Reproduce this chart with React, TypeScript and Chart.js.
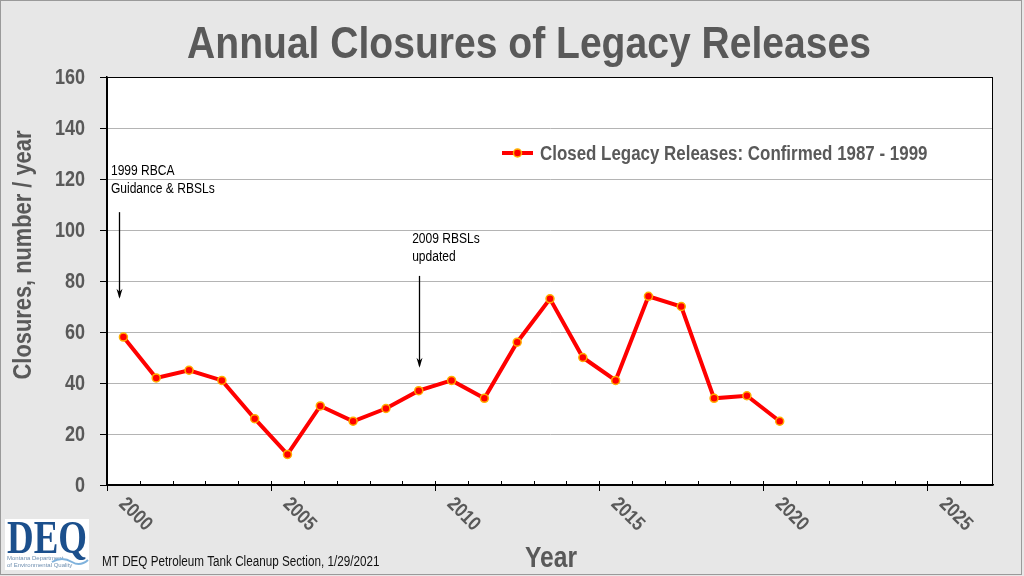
import React, { useEffect, useRef } from "react";
import { Chart, registerables } from "chart.js";

Chart.register(...registerables);

// ---- data ----
const years = [2000.5, 2001.5, 2002.5, 2003.5, 2004.5, 2005.5, 2006.5, 2007.5, 2008.5, 2009.5, 2010.5, 2011.5, 2012.5, 2013.5, 2014.5, 2015.5, 2016.5, 2017.5, 2018.5, 2019.5, 2020.5];
const closures = [58, 42, 45, 41, 26, 12, 31, 25, 30, 37, 41, 34, 56, 73, 50, 41, 74, 70, 34, 35, 25];
const xMajorTicks = [2000, 2005, 2010, 2015, 2020, 2025];
const xMin = 2000;
const xMax = 2027;
const yTickValues = [0, 20, 40, 60, 80, 100, 120, 140, 160];
const yMin = 0;
const yMax = 160;
const yStep = 20;

const chartTitle = "Annual Closures of Legacy Releases";
const yTitle = "Closures, number / year";
const xTitle = "Year";
const seriesLabel = "Closed Legacy Releases: Confirmed 1987 - 1999";
const footerText = "MT DEQ Petroleum Tank Cleanup Section, 1/29/2021";

// annotations in data units: text anchor (x,y of first line) and arrow (x, from, to)
const noteLines1 = ["1999 RBCA", "Guidance & RBSLs"];
const noteAnchor1 = [2000.12, 123];
const arrow1 = [2000.37, 107, 73];
const noteLines2 = ["2009 RBSLs", "updated"];
const noteAnchor2 = [2009.3, 96.5];
const arrow2 = [2009.5, 82, 46];

const SANS = "'Liberation Sans', Arial, sans-serif";
const GRAY = "#595959";
const BG = "#e7e7e7";
const NARROW_SX = 0.82;

type TxtOpts = {
  size: number;
  bold?: boolean;
  align?: CanvasTextAlign;
  baseline?: CanvasTextBaseline;
  color?: string;
  sx?: number;
  rot?: number;
  family?: string;
};

function txt(ctx: CanvasRenderingContext2D, s: string, x: number, y: number, o: TxtOpts) {
  ctx.save();
  ctx.translate(x, y);
  if (o.rot) ctx.rotate(o.rot);
  ctx.scale(o.sx ?? NARROW_SX, 1);
  ctx.font = `${o.bold ? "bold " : ""}${o.size}px ${o.family ?? SANS}`;
  ctx.fillStyle = o.color ?? GRAY;
  ctx.textAlign = o.align ?? "left";
  ctx.textBaseline = o.baseline ?? "alphabetic";
  ctx.fillText(s, 0, 0);
  ctx.restore();
}

const decorPlugin = {
  id: "decor",
  beforeDraw(chart: any) {
    const { ctx, chartArea: a, width, height } = chart;
    ctx.save();
    ctx.fillStyle = BG;
    ctx.fillRect(0, 0, width, height);
    ctx.fillStyle = "#ffffff";
    ctx.fillRect(a.left, a.top, a.right - a.left, a.bottom - a.top);
    ctx.restore();
  },
  afterDraw(chart: any) {
    const { ctx, chartArea: a } = chart;
    const xs = chart.scales.x;
    const ys = chart.scales.y;
    ctx.save();

    // plot border
    ctx.strokeStyle = "#000";
    ctx.lineWidth = 1;
    ctx.strokeRect(a.left + 0.5, a.top + 0.5, a.right - a.left - 1, a.bottom - a.top);

    // x tick marks
    ctx.beginPath();
    for (let yr = xMin; yr < xMax; yr++) {
      const px = Math.round(xs.getPixelForValue(yr)) + 0.5;
      if (xMajorTicks.includes(yr)) {
        ctx.moveTo(px, a.bottom - 4);
        ctx.lineTo(px, a.bottom + 6);
      } else {
        ctx.moveTo(px, a.bottom - 4);
        ctx.lineTo(px, a.bottom);
      }
    }
    ctx.stroke();

    // y tick labels
    for (const v of yTickValues) {
      txt(ctx, String(v), 85, ys.getPixelForValue(v) + 1, { size: 22, bold: true, align: "right", baseline: "middle" });
    }

    // x tick labels (rotated clockwise)
    for (const yr of xMajorTicks) {
      const px = xs.getPixelForValue(yr);
      txt(ctx, String(yr), px + 15, a.bottom + 16, { size: 20, bold: true, baseline: "middle", rot: Math.PI / 4, sx: 0.85 });
    }

    // title
    txt(ctx, chartTitle, 529, 58, { size: 45, bold: true, align: "center", sx: 0.868 });
    // x title
    txt(ctx, xTitle, 551, 567, { size: 30, bold: true, align: "center" });
    // y title
    txt(ctx, yTitle, 31, 255, { size: 26, bold: true, align: "center", rot: -Math.PI / 2, sx: 0.84 });

    // legend
    const ly = 153;
    ctx.strokeStyle = "#ff0000";
    ctx.lineWidth = 4;
    ctx.beginPath();
    ctx.moveTo(502, ly);
    ctx.lineTo(533, ly);
    ctx.stroke();
    ctx.beginPath();
    ctx.arc(517.5, ly, 4, 0, Math.PI * 2);
    ctx.fillStyle = "#ff0000";
    ctx.fill();
    ctx.lineWidth = 1.5;
    ctx.strokeStyle = "#ffb000";
    ctx.stroke();
    txt(ctx, seriesLabel, 540, ly + 1, { size: 20, bold: true, baseline: "middle", sx: 0.846 });

    // annotations
    const drawNote = (lines: string[], anchor: number[]) => {
      const x = xs.getPixelForValue(anchor[0]);
      const y = ys.getPixelForValue(anchor[1]);
      lines.forEach((l, i) => txt(ctx, l, x, y + i * 18, { size: 14, baseline: "middle", color: "#000", sx: 0.86 }));
    };
    drawNote(noteLines1, noteAnchor1);
    drawNote(noteLines2, noteAnchor2);
    const drawArrow = (arr: number[]) => {
      const x = Math.round(xs.getPixelForValue(arr[0])) + 0.5;
      const y1 = ys.getPixelForValue(arr[1]);
      const y2 = ys.getPixelForValue(arr[2]);
      ctx.strokeStyle = "#000";
      ctx.lineWidth = 1.3;
      ctx.beginPath();
      ctx.moveTo(x, y1);
      ctx.lineTo(x, y2 - 2);
      ctx.stroke();
      ctx.beginPath();
      ctx.moveTo(x, y2);
      ctx.lineTo(x - 3, y2 - 10);
      ctx.lineTo(x, y2 - 7);
      ctx.lineTo(x + 3, y2 - 10);
      ctx.closePath();
      ctx.fillStyle = "#000";
      ctx.fill();
    };
    drawArrow(arrow1);
    drawArrow(arrow2);

    // footer
    txt(ctx, footerText, 102, 566, { size: 14, color: "#111", sx: 0.835 });

    // logo
    ctx.fillStyle = "#ffffff";
    ctx.fillRect(5, 519, 84, 51);
    ctx.font = "bold 46px 'Liberation Serif', serif";
    const w = ctx.measureText("DEQ").width;
    txt(ctx, "DEQ", 7, 553, { size: 46, bold: true, family: "'Liberation Serif', serif", color: "#1b4f8c", sx: 80 / w });
    txt(ctx, "Montana Department", 7, 560, { size: 6, color: "#6f8fb0", sx: 1 });
    txt(ctx, "of Environmental Quality", 7, 567, { size: 6, color: "#6f8fb0", sx: 1 });
    ctx.strokeStyle = "#7fb2dc";
    ctx.lineWidth = 2;
    ctx.beginPath();
    ctx.moveTo(52, 562);
    ctx.quadraticCurveTo(62, 556, 72, 562);
    ctx.quadraticCurveTo(80, 567, 88, 560);
    ctx.stroke();

    // outer frame
    ctx.strokeStyle = "#9a9a9a";
    ctx.lineWidth = 1;
    ctx.strokeRect(0.5, 0.5, 1021, 574);

    ctx.restore();
  },
};

export default function App() {
  const canvasRef = useRef<HTMLCanvasElement | null>(null);

  useEffect(() => {
    document.body.style.margin = "0";
    const canvas = canvasRef.current;
    if (!canvas) return;
    const chart = new Chart(canvas, {
      type: "line",
      data: {
        datasets: [
          {
            label: seriesLabel,
            data: years.map((x, i) => ({ x, y: closures[i] })),
            borderColor: "#ff0000",
            borderWidth: 4,
            backgroundColor: "#ff0000",
            pointRadius: 4,
            pointBackgroundColor: "#ff0000",
            pointBorderColor: "#ffb000",
            pointBorderWidth: 1.5,
            tension: 0,
          },
        ],
      },
      options: {
        animation: false,
        responsive: false,
        devicePixelRatio: 1,
        layout: { padding: { top: 77, right: 31, left: 0, bottom: 0 } },
        plugins: {
          legend: { display: false },
          title: { display: false },
          tooltip: { enabled: false },
        },
        scales: {
          x: {
            type: "linear",
            min: xMin,
            max: xMax,
            ticks: { display: false },
            grid: { display: false, drawTicks: false },
            border: { display: true, color: "#000", width: 1.5 },
            afterFit: (s: any) => {
              s.height = 91;
            },
          },
          y: {
            min: yMin,
            max: yMax,
            ticks: { stepSize: yStep, display: false },
            grid: {
              color: "#b4b4b4",
              lineWidth: 1,
              drawTicks: true,
              tickLength: 7,
              tickColor: "#000",
            },
            border: { display: true, color: "#000", width: 1.5 },
            afterFit: (s: any) => {
              s.width = 107;
            },
          },
        },
      },
      plugins: [decorPlugin],
    } as any);
    return () => chart.destroy();
  }, []);

  return (
    <div style={{ position: "absolute", left: 0, top: 0, width: 1024, height: 576 }}>
      <canvas ref={canvasRef} width={1024} height={576} />
    </div>
  );
}
